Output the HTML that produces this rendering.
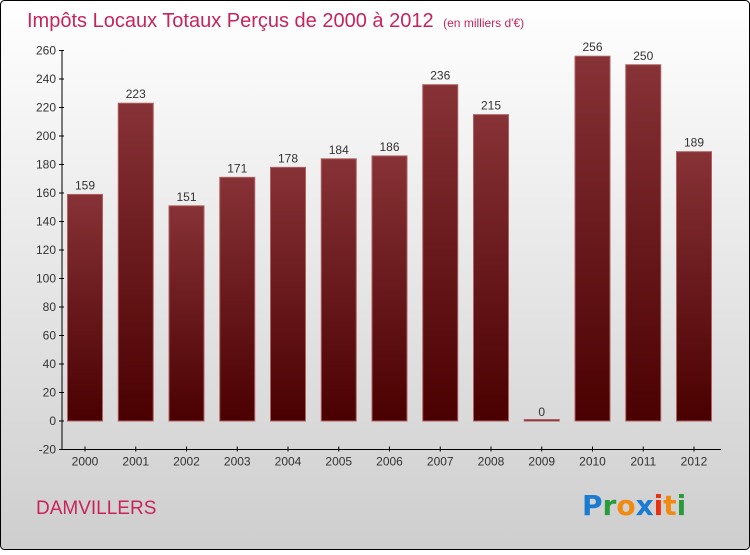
<!DOCTYPE html>
<html><head><meta charset="utf-8"><style>
html,body{margin:0;padding:0}
body{width:750px;height:550px;overflow:hidden;font-family:"Liberation Sans","DejaVu Sans",sans-serif}
</style></head><body>
<svg id="chart" width="750" height="550" xmlns="http://www.w3.org/2000/svg">
<defs>
<linearGradient id="bg" x1="0" y1="0" x2="0" y2="1"><stop offset="0" stop-color="#ffffff"/><stop offset="1" stop-color="#cecece"/></linearGradient>
<linearGradient id="bar" x1="0" y1="0" x2="0" y2="1"><stop offset="0" stop-color="#873236"/><stop offset="1" stop-color="#4a0000"/></linearGradient>
</defs>
<rect x="0.5" y="0.5" width="749" height="549" rx="4" fill="url(#bg)" stroke="#000"/>
<text x="27" y="27" font-size="20" fill="#c8245c">Impôts Locaux Totaux Perçus de 2000 à 2012 <tspan font-size="12" dx="4">(en milliers d'€)</tspan></text>
<text x="36" y="514" font-size="19" fill="#c8245c">DAMVILLERS</text>
<g font-size="28" font-family="'Comic Sans MS','DejaVu Sans',sans-serif" font-weight="bold">
<text x="582" y="515"><tspan fill="#1a7bd0">P</tspan><tspan fill="#2a9a3a">r</tspan><tspan fill="#f08a10">o</tspan><tspan fill="#1a7bd0">x</tspan><tspan fill="#e83010">i</tspan><tspan fill="#f08a10">t</tspan><tspan fill="#2a9a3a">i</tspan></text>
</g>
<g id="axes"></g>
<g id="bars"></g>
</svg>
<script>
const categories=["2000","2001","2002","2003","2004","2005","2006","2007","2008","2009","2010","2011","2012"];
const values=[159,223,151,171,178,184,186,236,215,0,256,250,189];
const yTicks=[-20,0,20,40,60,80,100,120,140,160,180,200,220,240,260];
const NS="http://www.w3.org/2000/svg";
function y(v){return 421-v*28.5/20;}
function x(i){return 85+i*50.75;}
function mk(t,a,p){const e=document.createElementNS(NS,t);for(const k in a)e.setAttribute(k,a[k]);p.appendChild(e);return e;}
const ax=document.getElementById('axes'),bs=document.getElementById('bars');
const yl=mk('line',{x1:62,y1:y(260),x2:62,y2:y(-20),stroke:'#000'},ax);


const xl=mk('line',{x1:62,y1:y(-20),x2:721,y2:y(-20),stroke:'#000'},ax);


yTicks.forEach(v=>{
 mk('line',{x1:59,x2:64,y1:y(v),y2:y(v),stroke:'#000'},ax);
 const t=mk('text',{x:56,y:y(v)+4,'text-anchor':'end','font-size':12,fill:'#333'},ax);t.textContent=v;
 
 
});
categories.forEach((c,i)=>{
 mk('line',{x1:x(i),x2:x(i),y1:y(-20)-3,y2:y(-20)+2,stroke:'#000'},ax);
 const t=mk('text',{x:x(i),y:y(-20)+16,'text-anchor':'middle','font-size':12,fill:'#333'},ax);t.textContent=c;
 
 
 const v=values[i];
 const h=Math.max(1.5,y(0)-y(v));
 const r=mk('rect',{x:x(i)-17.5,y:y(0)-h,width:35,height:h,fill:'url(#bar)',stroke:'#b06060','stroke-width':1},bs);
 
 
 const l=mk('text',{x:x(i),y:y(v)-5,'text-anchor':'middle','font-size':12,fill:'#333'},bs);l.textContent=v;
 
 
});
</script>
</body></html>
